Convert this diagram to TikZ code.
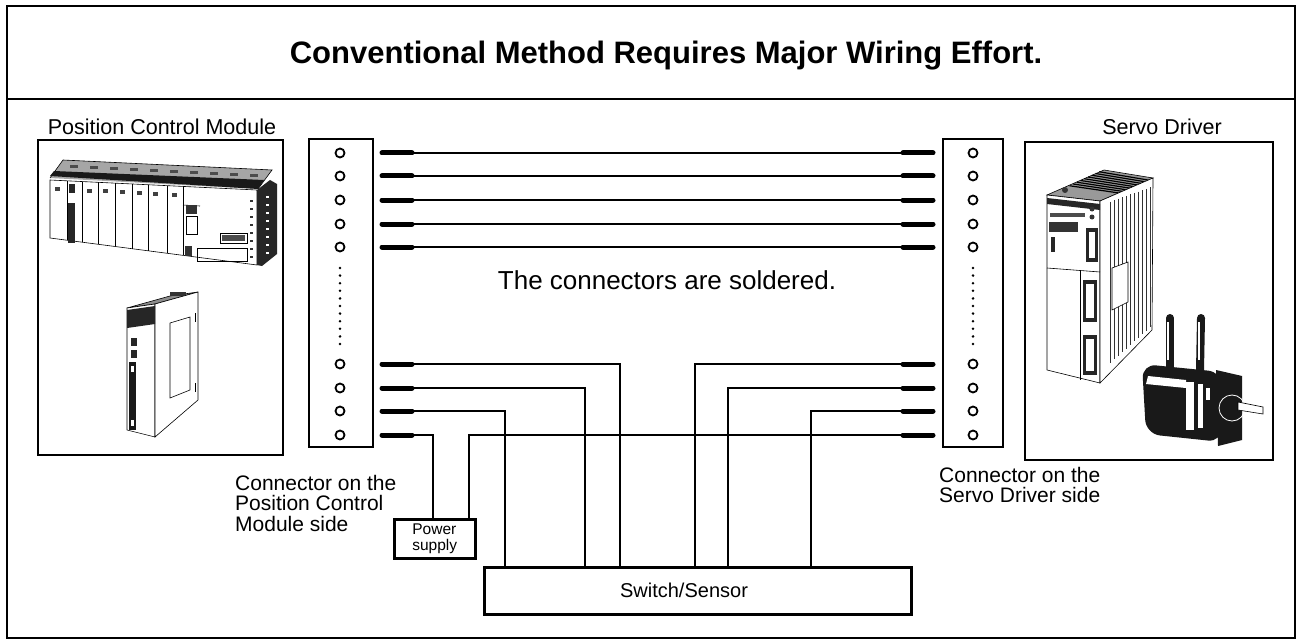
\documentclass[tikz,border=0pt]{standalone}
\usepackage{fontspec}
\setmainfont{Liberation Sans}
\begin{document}
\begin{tikzpicture}[x=1pt,y=-1pt,
  frame/.style={draw,line width=2pt},
  conbox/.style={draw,line width=2.5pt,rectangle,inner sep=0pt,outer sep=0pt,anchor=north west},
  photobox/.style={draw,line width=1.4pt,rectangle,inner sep=0pt,outer sep=0pt,anchor=north west},
  pin/.style={draw,circle,line width=1.8pt,minimum size=9pt,inner sep=0pt},
  stub/.style={line width=5pt,line cap=round},
  wire/.style={line width=1.1pt},
  lbl/.style={font=\fontsize{21}{20.5}\selectfont,inner sep=0pt},
  dark/.style={fill=black!85,draw=black,line width=0.6pt},
  thin/.style={draw=black,line width=0.6pt},
]
\useasboundingbox (0,0) rectangle (1300,639);
\fill[white] (0,0) rectangle (1300,639);

% outer frame and title
\node[frame,rectangle,inner sep=0pt,anchor=north west,minimum width=1288pt,minimum height=632pt] (outer) at (6,5) {};
\coordinate (tl) at (6,99);
\coordinate (tr) at (1294,99);
\draw[frame] (tl) -- (tr);
\node[font=\bfseries\fontsize{31}{36}\selectfont,anchor=base] (title) at (666,64) {Conventional Method Requires Major Wiring Effort.};

% photo boxes and labels
\node[photobox,minimum width=245pt,minimum height=315pt] (lphoto) at (38,140) {};
\node[photobox,minimum width=248pt,minimum height=318pt] (rphoto) at (1025,142) {};
\node[lbl,font=\fontsize{21.5}{22}\selectfont,anchor=base] (plabel) at (162,134.5) {Position Control Module};
\node[lbl,font=\fontsize{21.5}{22}\selectfont,anchor=base] (slabel) at (1162,134.5) {Servo Driver};

% ---- PLC rack drawing ----
\fill[black!35] (50,178) -- (63,160) -- (272,170) -- (258,189) -- cycle;
\draw[thin] (50,178) -- (63,160) -- (272,170) -- (258,189);
\fill[black!90] (50,176) -- (54,171) -- (264,180) -- (258,189) -- cycle;
\foreach \x in {70,90,110,130,150,170,190,210,230,250}
  \fill[black!70] (\x,{165+(\x-63)*0.05}) rectangle ++(8,3);
\draw[thin,fill=white] (50,180) -- (257,190) -- (257,265) -- (50,238) -- cycle;
\foreach \x in {67,82,98,115,132,148,167,183}
  \draw[thin] (\x,{180+(\x-50)*0.0483}) -- (\x,{238+(\x-50)*0.1304});
\foreach \x in {52,84,100,117,134,150,169}
  \fill[black!75] (\x+3,{187+(\x-50)*0.0483}) rectangle ++(5,4);
\fill[black!85] (69,{184}) rectangle (75,193);
\fill[black!85] (68,203) rectangle (75,243);
\draw[thin] (183,205) -- (200,206);
\fill[black!80] (186,205) rectangle (197,214);
\draw[thin] (186,216) rectangle (197,234);
\draw[thin] (220,233) rectangle (247,243);
\fill[black!70] (222,235) rectangle (245,241);
\draw[thin] (197,248) rectangle (247,261);
\fill[black!80] (185,246) rectangle (192,256);
\foreach \y in {200,208,...,256} \fill[black!80] (250,\y) rectangle ++(3,2);
\fill[black!85] (257,190) -- (270,180) -- (277,184) -- (277,254) -- (262,266) -- (257,265) -- cycle;
\foreach \y in {196,204,...,252} \fill[white] (266,\y) rectangle ++(3,2);

% ---- single module drawing ----
\fill[black!45] (127,308) -- (155,304) -- (198,292) -- (170,296) -- cycle;
\draw[thin] (127,308) -- (155,304) -- (198,292) -- (170,296) -- cycle;
\fill[black!80] (170,296) rectangle (186,292);
\draw[thin,fill=white] (127,308) -- (155,304) -- (155,437) -- (127,430) -- cycle;
\draw[thin,fill=white] (155,304) -- (198,292) -- (198,400) -- (155,437) -- cycle;
\fill[black!85] (127,310) -- (155,306) -- (155,324) -- (127,328) -- cycle;
\fill[black!85] (131,338) rectangle (137,346);
\fill[black!85] (131,350) rectangle (137,358);
\fill[black!90] (129,362) rectangle (136,430);
\fill[white] (131,366) rectangle (134,372);
\fill[white] (131,420) rectangle (134,426);
\draw[thin] (170,323) -- (190,317) -- (190,390) -- (170,398) -- cycle;
\draw[thin] (195,313) -- (195,322);
\draw[thin] (195,383) -- (195,392);

% ---- servo driver drawing ----
\fill[black!40] (1047,195) -- (1100,201) -- (1153,178) -- (1104,170) -- cycle;
\draw[thin] (1047,195) -- (1100,201) -- (1153,178) -- (1104,170) -- cycle;
\foreach \t in {0.35,0.42,...,0.95}
  \draw[black,line width=1.2pt] ({1100+53*\t},{201-23*\t}) -- ({1051+53*\t},{194.5-25*\t});
\fill[black!80] (1065,190) circle (3);
\draw[thin,fill=white] (1047,195) -- (1100,201) -- (1100,383) -- (1047,370) -- cycle;
\draw[thin,fill=white] (1100,201) -- (1153,178) -- (1152,330) -- (1100,383) -- cycle;
\foreach \x in {1110,1114,...,1150}
  \draw[black!80,line width=0.8pt] (\x,{205-(\x-1100)*0.35}) -- (\x,{372-(\x-1100)*0.9});
\fill[white] (1112,268) -- (1128,262) -- (1128,302) -- (1112,310) -- cycle;
\draw[thin] (1112,268) -- (1128,262) -- (1128,302) -- (1112,310) -- cycle;
\fill[black!85] (1047,198) -- (1100,204) -- (1100,210) -- (1047,204) -- cycle;
\fill[black!70] (1050,213) rectangle (1085,217);
\fill[black!80] (1092,209) circle (2.5);
\fill[black!80] (1092,217) circle (2.5);
\fill[black!80] (1049,222) rectangle (1078,232);
\fill[black!85] (1086,228) rectangle (1098,262);
\fill[white] (1089,232) rectangle (1095,258);
\fill[black!85] (1051,237) rectangle (1055,252);
\draw[thin] (1047,268) -- (1100,272);
\draw[thin] (1080,270) -- (1080,380);
\fill[black!85] (1083,280) rectangle (1097,322);
\fill[white] (1086,284) rectangle (1094,318);
\fill[black!85] (1083,335) rectangle (1097,375);
\fill[white] (1086,339) rectangle (1094,371);

% ---- motor drawing ----
\draw[black!90,line width=8pt,line cap=round] (1170,318) -- (1170,368);
\draw[black!90,line width=8pt,line cap=round] (1201,318) -- (1200,370);
\draw[white,line width=1.2pt] (1168,322) -- (1168,360);
\draw[white,line width=1.2pt] (1199,322) -- (1199,360);
\fill[black!90,rounded corners=14pt] (1142,364) -- (1222,372) -- (1222,442) -- (1146,434) -- cycle;
\fill[white] (1148,376) -- (1186,380) -- (1186,388) -- (1146,384) -- cycle;
\fill[white] (1186,382) rectangle (1194,430);
\fill[white] (1198,384) rectangle (1203,428);
\fill[black!90] (1216,370) -- (1242,376) -- (1242,440) -- (1218,446) -- cycle;
\draw[white,line width=0.8pt] (1232,408) circle (13);
\fill[white] (1206,388) rectangle (1210,400);
\draw[thin,fill=white] (1238,402) -- (1263,407) -- (1263,414) -- (1238,410) -- cycle;

% ---- connectors ----
\node[conbox,minimum width=64pt,minimum height=308pt] (lcon) at (309,139) {};
\node[conbox,minimum width=60pt,minimum height=308pt] (rcon) at (943,139) {};

\foreach \i/\y in {1/153,2/176,3/200,4/224,5/247,6/364,7/388,8/411,9/435} {
  \node[pin] (lp\i) at (340,\y) {};
  \node[pin] (rp\i) at (973,\y) {};
  \coordinate (la\i) at (382,\y);
  \coordinate (lb\i) at (412,\y);
  \coordinate (ra\i) at (903,\y);
  \coordinate (rb\i) at (933,\y);
  \draw[stub] (la\i) -- (lb\i);
  \draw[stub] (ra\i) -- (rb\i);
}
\foreach \y in {268,275.6,...,345} {
  \fill (340,\y) circle (1.4);
  \fill (973,\y) circle (1.4);
}

% straight wires
\foreach \i in {1,...,5} \draw[wire] (lb\i) -- (ra\i);

% middle text
\node[font=\fontsize{26}{30}\selectfont,anchor=base] (mid) at (667,289) {The connectors are soldered.};

% power supply and switch/sensor
\node[draw,line width=2.5pt,rectangle,inner sep=0pt,anchor=north west,minimum width=81pt,minimum height=39pt,font=\fontsize{15.5}{16.5}\selectfont,align=left] (ps) at (393,518) {Power\\supply};
\node[draw,line width=2.8pt,rectangle,inner sep=0pt,anchor=north west,minimum width=427pt,minimum height=47pt] (sw) at (483,566) {};
\node[font=\fontsize{20}{24}\selectfont] (swtext) at (684,590) {Switch/Sensor};

\coordinate (psA) at (433,518);
\coordinate (psB) at (469,518);
\coordinate (s1) at (505,566);
\coordinate (s2) at (585,566);
\coordinate (s3) at (620,566);
\coordinate (s4) at (695,566);
\coordinate (s5) at (728,566);
\coordinate (s6) at (811,566);

\draw[wire] (lb6) -| (s3);
\draw[wire] (lb7) -| (s2);
\draw[wire] (lb8) -| (s1);
\draw[wire] (lb9) -| (psA);
\draw[wire] (psB) |- (ra9);
\draw[wire] (ra6) -| (s4);
\draw[wire] (ra7) -| (s5);
\draw[wire] (ra8) -| (s6);

% connector labels
\node[lbl,anchor=north west,align=left] (lcl) at (235,475) {Connector on the\\Position Control\\Module side};
\node[lbl,anchor=north west,align=left] (rcl) at (939,467) {Connector on the\\Servo Driver side};
\end{tikzpicture}
\end{document}
